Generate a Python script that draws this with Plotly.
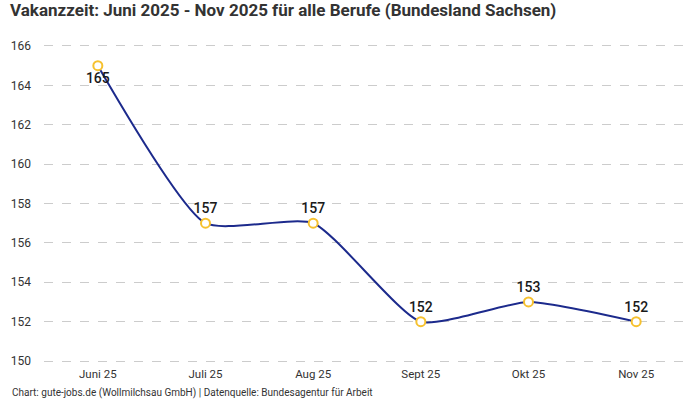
import plotly.graph_objects as go

months = ['Juni 25', 'Juli 25', 'Aug 25', 'Sept 25', 'Okt 25', 'Nov 25']
vakanzzeit = [165, 157, 157, 152, 153, 152]
label_pos = ['bottom center', 'top center', 'top center', 'top center', 'top center', 'top center']
y_ticks = [150, 152, 154, 156, 158, 160, 162, 164, 166]

fig = go.Figure()

fig.add_trace(go.Scatter(
    x=months,
    y=vakanzzeit,
    mode='lines+markers+text',
    line=dict(color='#1c2a8c', width=2, shape='spline', smoothing=0.55),
    marker=dict(size=9, color='white', line=dict(color='#f6c12f', width=2)),
    text=[str(v) for v in vakanzzeit],
    textposition=label_pos,
    textfont=dict(size=14, color='#1a1a1a', family='Roboto', weight=500),
    cliponaxis=False,
    hoverinfo='x+y',
))

fig.update_layout(
    width=700,
    height=400,
    paper_bgcolor='white',
    plot_bgcolor='white',
    showlegend=False,
    font=dict(family='Roboto', color='#333333'),
    margin=dict(l=44, r=10, t=42, b=35),
    title=dict(
        text='<b>Vakanzzeit: Juni 2025 - Nov 2025 für alle Berufe (Bundesland Sachsen)</b>',
        font=dict(size=17, color='#333333', family='Roboto'),
        x=10 / 700,
        xanchor='left',
        xref='container',
        y=1 - 4 / 400,
        yanchor='top',
        yref='container',
    ),
    xaxis=dict(
        showgrid=False,
        showline=False,
        zeroline=False,
        tickfont=dict(size=11.5, color='#333333'),
        range=[-0.5, 5.5],
    ),
    yaxis=dict(
        range=[149.8, 166.2],
        tickvals=y_ticks,
        showgrid=True,
        gridcolor='#cccccc',
        griddash='dash',
        gridwidth=1,
        zeroline=False,
        showline=False,
        tickfont=dict(size=12, color='#333333'),
        ticklabelstandoff=12,
        automargin=False,
    ),
)

# Quelle unten links
fig.add_annotation(
    text='Chart: gute-jobs.de (Wollmilchsau GmbH) | Datenquelle: Bundesagentur für Arbeit',
    showarrow=False,
    xref='paper',
    yref='paper',
    x=-34 / 646,
    y=-28 / 323,
    xanchor='left',
    yanchor='middle',
    font=dict(size=10, color='#333333'),
)

# page margin off so the figure sits at the window's corner
fig.write_html('out.html', config={'displayModeBar': False},
               post_script="document.body.style.margin='0';")
